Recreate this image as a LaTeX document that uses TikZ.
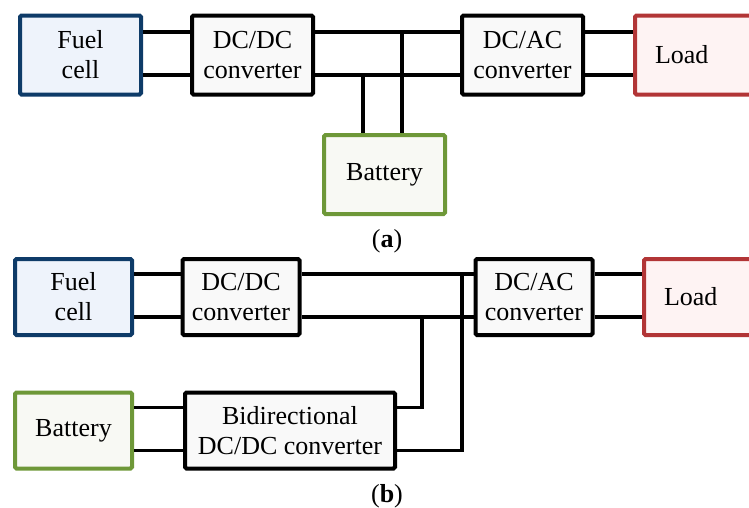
\documentclass[tikz,border=0pt]{standalone}
\usepackage{fontspec}
\setmainfont{Liberation Serif}
\usepackage{tikz}
\definecolor{fcblue}{HTML}{0E3B68}
\definecolor{fcfill}{HTML}{EEF3FB}
\definecolor{batgreen}{HTML}{6E9838}
\definecolor{batfill}{HTML}{F8F9F4}
\definecolor{loadred}{HTML}{B23536}
\definecolor{loadfill}{HTML}{FEF3F3}
\definecolor{convfill}{HTML}{F9F9F9}
\def \up{23pt}
\def \dn{-20pt}
\tikzset{
  box/.style={draw, line width=4pt, rounded corners=1.5pt, align=center, inner sep=0pt,
    minimum width=121pt, minimum height=79pt, font=\fontsize{26}{30}\selectfont},
  rowb/.style={minimum width=117pt, minimum height=76pt},
  conv/.style={box, draw=black, fill=convfill},
  fuel/.style={box, draw=fcblue, fill=fcfill},
  batt/.style={box, draw=batgreen, fill=batfill},
  loadbox/.style={box, draw=loadred, fill=loadfill, anchor=west, text width=100pt,
    align=left, inner xsep=20pt},
  wire/.style={line width=3.2pt},
  caption/.style={font=\fontsize{26}{30}\selectfont},
}

\begin{document}
\begin{tikzpicture}[x=1pt, y=-1pt]
    \useasboundingbox (0,0) rectangle (749,507);
    % (a)
    \node[fuel] (fuelA) at (80.5, 55) {Fuel\\cell};
    \node[conv] (dcdcA) at (252.5, 55) {DC/DC\\converter};
    \node[conv] (dcacA) at (522.5, 55) {DC/AC\\converter};
    \node[loadbox] (loadA) at (633, 55) {Load};
    \node[batt] (batA) at (384.5, 174.5) {Battery};
    \node[caption] (capA) at (387, 241) {(\textbf{a})};
    \coordinate (jA1) at (363, 75);
    \coordinate (jA2) at (402, 32);
    \path[wire] ([yshift=\up]fuelA.east) edge ([yshift=\up]dcdcA.west);
    \path[wire] ([yshift=\dn]fuelA.east) edge ([yshift=\dn]dcdcA.west);
    \path[wire] ([yshift=\up]dcdcA.east) edge ([yshift=\up]dcacA.west);
    \path[wire] ([yshift=\dn]dcdcA.east) edge ([yshift=\dn]dcacA.west);
    \path[wire] ([yshift=\up]dcacA.east) edge ([yshift=\up]loadA.west);
    \path[wire] ([yshift=\dn]dcacA.east) edge ([yshift=\dn]loadA.west);
    \path[wire] (jA1) edge (jA1 |- batA.north);
    \path[wire] (jA2) edge (jA2 |- batA.north);
    % (b)
    \node[fuel, rowb] (fuelB) at (73.5, 297) {Fuel\\cell};
    \node[conv, rowb] (dcdcB) at (241, 297) {DC/DC\\converter};
    \node[conv, rowb] (dcacB) at (534, 297) {DC/AC\\converter};
    \node[loadbox, rowb] (loadB) at (642, 297) {Load};
    \node[batt, rowb] (batB) at (73.5, 430.5) {Battery};
    \node[conv, rowb, minimum width=210pt] (bidir) at (290, 430.5) {Bidirectional\\DC/DC converter};
    \node[caption] (capB) at (387, 496) {(\textbf{b})};
    \coordinate (jB1) at (462, 274);
    \coordinate (jB2) at (422, 317);
    \path[wire] ([yshift=\up]fuelB.east) edge ([yshift=\up]dcdcB.west);
    \path[wire] ([yshift=\dn]fuelB.east) edge ([yshift=\dn]dcdcB.west);
    \path[wire] ([yshift=\up]dcdcB.east) edge ([yshift=\up]dcacB.west);
    \path[wire] ([yshift=\dn]dcdcB.east) edge ([yshift=\dn]dcacB.west);
    \path[wire] ([yshift=\up]dcacB.east) edge ([yshift=\up]loadB.west);
    \path[wire] ([yshift=\dn]dcacB.east) edge ([yshift=\dn]loadB.west);
    \path[wire] ([yshift=\up]batB.east) edge ([yshift=\up]bidir.west);
    \path[wire] ([yshift=\dn]batB.east) edge ([yshift=\dn]bidir.west);
    \draw[wire] ([yshift=\up]bidir.east) -| (jB2);
    \draw[wire] ([yshift=\dn]bidir.east) -| (jB1);
  \end{tikzpicture}
\end{document}
